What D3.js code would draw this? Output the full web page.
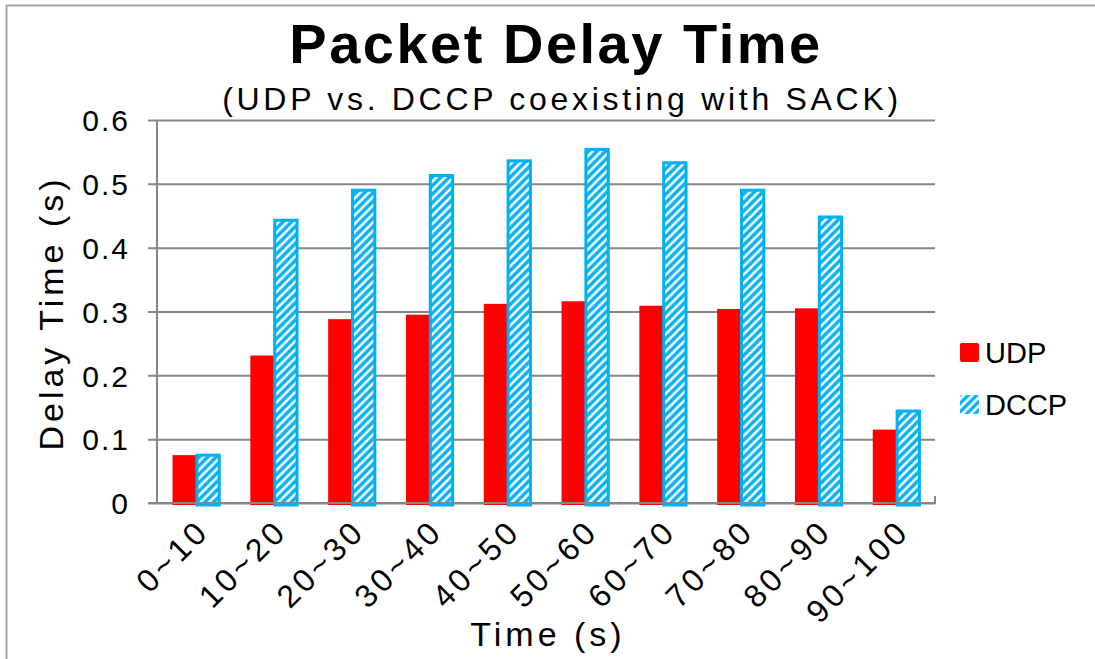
<!DOCTYPE html>
<html>
<head>
<meta charset="utf-8">
<script src="https://cdn.jsdelivr.net/npm/d3@7"></script>
<style>
  body { margin: 0; background: #fff; }
  text { font-family: "Liberation Sans", Arial, sans-serif; fill: #000; }
</style>
</head>
<body>
<div id="chart"></div>
<script>
// values
var categories = ["0~10", "10~20", "20~30", "30~40", "40~50", "50~60", "60~70", "70~80", "80~90", "90~100"];
var seriesNames = ["UDP", "DCCP"];
var udpValues  = [0.075, 0.231, 0.288, 0.295, 0.312, 0.316, 0.309, 0.304, 0.305, 0.115];
var dccpValues = [0.075, 0.443, 0.490, 0.513, 0.536, 0.554, 0.533, 0.490, 0.448, 0.144];
var yTicks = [0, 0.1, 0.2, 0.3, 0.4, 0.5, 0.6];

var width = 1095, height = 659;
var margin = {left: 157, right: 160, top: 120, bottom: 156};
var blue = "#00b0f0", red = "#ff0000", grid = "#868686";

var svg = d3.select("#chart").append("svg")
    .attr("width", width)
    .attr("height", height);

// hatch for the DCCP bars
var defs = svg.append("defs");
var pat = defs.append("pattern")
    .attr("id", "hatch")
    .attr("patternUnits", "userSpaceOnUse")
    .attr("width", 6).attr("height", 6)
    .attr("patternTransform", "rotate(45)");
pat.append("rect").attr("width", 6).attr("height", 6).attr("fill", blue);
pat.append("line")
    .attr("x1", 3).attr("y1", 0).attr("x2", 3).attr("y2", 6)
    .attr("stroke", "#fff").attr("stroke-width", 2.6);

// outer frame (cut off at right/bottom like the picture)
svg.append("rect")
    .attr("x", 6.5).attr("y", 5.5)
    .attr("width", 1200).attr("height", 800)
    .attr("fill", "none").attr("stroke", "#a6a6a6").attr("stroke-width", 2);

var x0 = d3.scaleBand().domain(categories)
    .range([margin.left, width - margin.right])
    .paddingInner(0.4).paddingOuter(0.2);
var x1 = d3.scaleBand().domain(seriesNames).range([0, x0.bandwidth()]);
var y = d3.scaleLinear().domain([0, 0.6]).range([height - margin.bottom, margin.top]);

var plotLeft = margin.left, plotRight = width - margin.right;

// gridlines + y ticks
var yAxis = svg.append("g").attr("class", "axis axis--y")
    .attr("transform", "translate(" + plotLeft + ",0)")
    .call(d3.axisLeft(y).tickValues(yTicks).tickFormat(d3.format(".1~f"))
        .tickSize(-(plotRight - plotLeft)).tickPadding(0));
yAxis.select(".domain").remove();
yAxis.selectAll(".tick line")
    .attr("x1", -9)
    .attr("stroke", grid).attr("stroke-width", 2);
yAxis.selectAll(".tick text")
    .attr("x", -27)
    .attr("dy", "0.36em")
    .attr("font-size", 30)
    .attr("letter-spacing", "2px")
    .attr("font-family", "Liberation Sans, Arial, sans-serif")
    .attr("fill", "#000");

var data = categories.map(function(c, i){
    return {cat: c, values: [{key: "UDP", v: udpValues[i]}, {key: "DCCP", v: dccpValues[i]}]};
});

var groups = svg.append("g").selectAll("g")
    .data(data).enter().append("g")
    .attr("transform", function(d){ return "translate(" + x0(d.cat) + ",0)"; });

groups.selectAll("rect")
    .data(function(d){ return d.values; }).enter()
    .append("rect")
        .attr("x", function(d){ return d.key == "UDP" ? x1(d.key) : x1(d.key) + 1; })
        .attr("y", function(d){ return y(d.v); })
        .attr("width", function(d){ return d.key == "UDP" ? x1.bandwidth() + 0.5 : x1.bandwidth() - 1; })
        .attr("height", function(d){ return y(0) - y(d.v) + 2; })
        .attr("fill", function(d){ return d.key == "UDP" ? red : "url(#hatch)"; })
        .attr("stroke", function(d){ return d.key == "UDP" ? "none" : blue; })
        .attr("stroke-width", 3);

// left and bottom axis lines
svg.append("line")
    .attr("x1", plotLeft).attr("x2", plotLeft)
    .attr("y1", y(0.6)).attr("y2", y(0) + 1)
    .attr("stroke", grid).attr("stroke-width", 2);
svg.append("line")
    .attr("x1", plotLeft - 9).attr("x2", plotRight)
    .attr("y1", y(0)).attr("y2", y(0))
    .attr("stroke", grid).attr("stroke-width", 2);
svg.append("line")
    .attr("x1", plotRight).attr("x2", plotRight)
    .attr("y1", y(0) - 7).attr("y2", y(0) + 1)
    .attr("stroke", grid).attr("stroke-width", 2);

// x tick labels, rotated
svg.append("g").selectAll("text")
    .data(categories).enter()
    .append("text")
        .attr("transform", function(d){
            return "translate(" + (x0(d) + x0.bandwidth() / 2 + 7) + "," + (y(0) + 22) + ") rotate(-45)";
        })
        .attr("text-anchor", "end")
        .attr("dy", "0.36em")
        .attr("font-size", 32)
        .attr("letter-spacing", "3.7px")
        .text(function(d){ return d; });

// titles
svg.append("text")
    .attr("x", 556).attr("y", 63)
    .attr("text-anchor", "middle")
    .attr("font-size", 56).attr("font-weight", "bold")
    .attr("letter-spacing", "2.5px")
    .text("Packet Delay Time");
svg.append("text")
    .attr("x", 562).attr("y", 110)
    .attr("text-anchor", "middle")
    .attr("font-size", 32)
    .attr("letter-spacing", "3.7px")
    .text("(UDP vs. DCCP coexisting with SACK)");

svg.append("text")
    .attr("x", 548).attr("y", 646)
    .attr("text-anchor", "middle")
    .attr("font-size", 34)
    .attr("letter-spacing", "4px")
    .text("Time (s)");

svg.append("text")
    .attr("transform", "translate(63,313) rotate(-90)")
    .attr("text-anchor", "middle")
    .attr("font-size", 34)
    .attr("letter-spacing", "4px")
    .text("Delay Time (s)");

// legend
var legend = svg.append("g").attr("transform", "translate(960,343)");
seriesNames.forEach(function(s, i){
    var row = legend.append("g").attr("transform", "translate(0," + (i * 52) + ")");
    row.append("rect")
        .attr("x", 0).attr("y", 0)
        .attr("width", 19).attr("height", 19)
        .attr("rx", 2)
        .attr("fill", i == 0 ? red : "url(#hatch)");
    row.append("text")
        .attr("x", 25).attr("y", 20)
        .attr("font-size", 29)
        .text(s);
});
</script>
</body>
</html>
